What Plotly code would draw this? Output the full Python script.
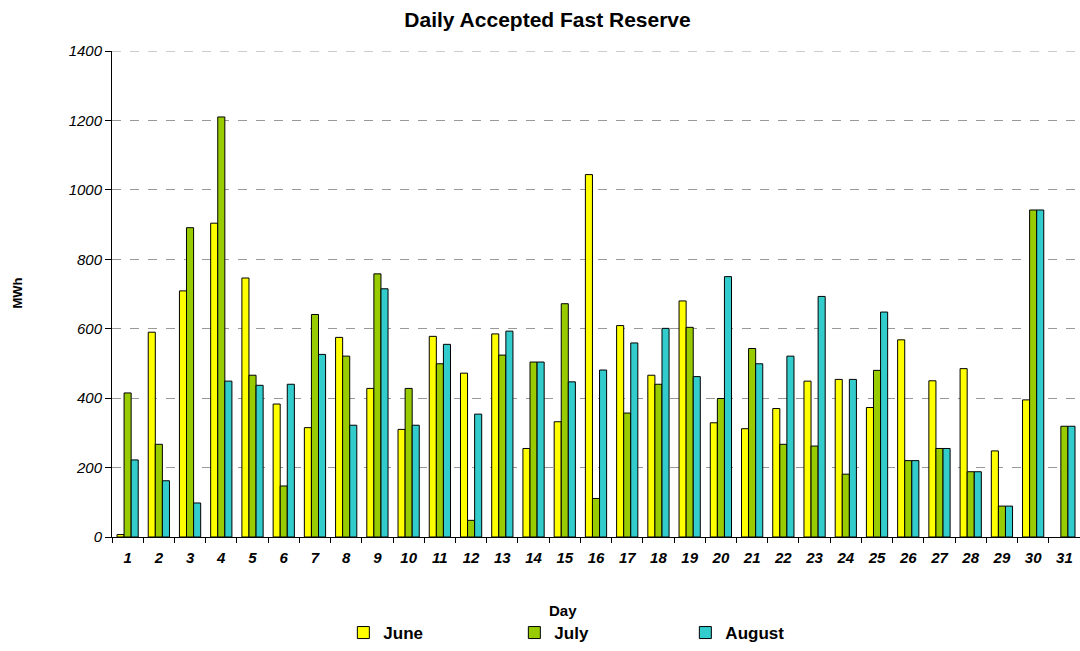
import plotly.graph_objects as go

days = [str(d) for d in range(1, 32)]
june = [7, 590, 709, 904, 746, 383, 315, 575, 428, 310, 578, 472, 585, 255, 332, 1044,
        609, 466, 680, 329, 312, 370, 449, 454, 373, 568, 450, 485, 248, 395, None]
july = [415, 267, 891, 1210, 466, 147, 641, 521, 758, 428, 499, 48, 524, 504, 672, 111,
        357, 440, 604, 399, 543, 267, 262, 181, 480, 220, 255, 188, 89, 942, 319]
august = [222, 162, 98, 449, 437, 440, 526, 322, 715, 322, 555, 354, 593, 504, 447, 481,
          559, 601, 462, 750, 499, 521, 693, 454, 648, 220, 255, 188, 89, 942, 319]
y_ticks = [0, 200, 400, 600, 800, 1000, 1200, 1400]

series = [("June", june, "#FFFF00"), ("July", july, "#99CC00"), ("August", august, "#33CCCC")]

fig = go.Figure()
for name, vals, col in series:
    fig.add_trace(go.Bar(
        x=days, y=vals, name=f"<b>{name}</b>",
        marker=dict(color=col, line=dict(color="black", width=1)),
    ))

font_family = "Liberation Sans, Arial, sans-serif"

fig.update_layout(
    width=1080, height=651,
    margin=dict(l=112, r=0, t=51, b=111),
    paper_bgcolor="white", plot_bgcolor="white",
    barmode="group", bargap=0.32, bargroupgap=0,
    font=dict(family=font_family, color="black", size=15),
    title=dict(text="<b>Daily Accepted Fast Reserve</b>", x=0.507, xanchor="center",
               y=1 - 20 / 651, yanchor="middle", font=dict(size=21, family=font_family)),
    showlegend=True,
    legend=dict(orientation="h", x=0.239, xanchor="left", y=-0.198, yanchor="middle",
                entrywidth=126, entrywidthmode="pixels",
                font=dict(size=17, family=font_family), bgcolor="rgba(0,0,0,0)",
                itemclick=False),
)

fig.update_xaxes(
    type="category", range=[-0.5, 30.5],
    showline=True, linecolor="black", linewidth=1,
    ticks="outside", tickson="boundaries", ticklen=5, tickcolor="black",
    tickfont=dict(size=15, family=font_family), ticklabelstandoff=7,
    tickvals=days, ticktext=[f"<b><i>{d}</i></b>" for d in days],
    showgrid=False,
)
fig.update_yaxes(
    range=[0, 1400], tickvals=y_ticks, ticktext=[f"<i>{t}</i>" for t in y_ticks],
    showline=True, linecolor="black", linewidth=1,
    ticks="outside", ticklen=6, tickcolor="black",
    tickfont=dict(size=15, family=font_family),
    showgrid=True, gridcolor="#999999", griddash="dash", gridwidth=1,
    zeroline=False,
)

fig.add_shape(type="line", xref="paper", yref="y", x0=0, x1=1, y0=1400, y1=1400,
              line=dict(color="#999999", width=1, dash="dash"), layer="below")

fig.add_annotation(text="<b>MWh</b>", xref="paper", yref="paper",
                   x=(18 - 112) / 968, y=0.501, xanchor="center", yanchor="middle",
                   textangle=-90, showarrow=False, font=dict(size=13, family=font_family))
fig.add_annotation(text="<b>Day</b>", xref="paper", yref="paper",
                   x=(563 - 112) / 968, y=-(614 - 540) / 489, xanchor="center", yanchor="middle",
                   showarrow=False, font=dict(size=15, family=font_family))

fig.write_html("out.html", config={"displayModeBar": False},
               post_script="document.body.style.margin='0';")
